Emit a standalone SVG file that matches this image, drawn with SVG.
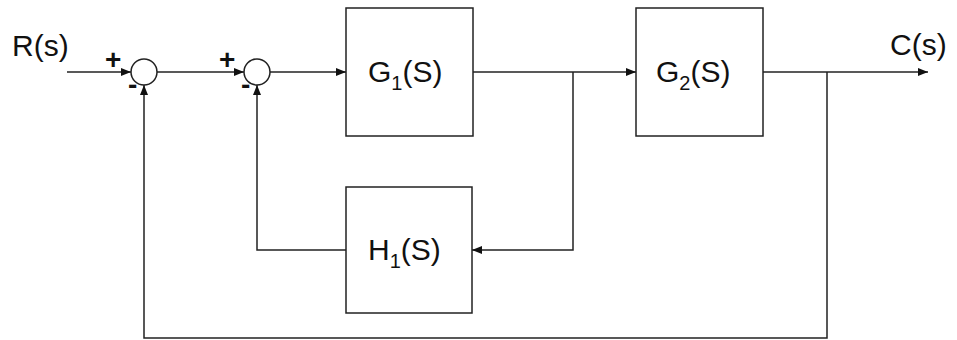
<svg xmlns="http://www.w3.org/2000/svg" width="957" height="340" viewBox="0 0 957 340">
<style>
.ln{fill:none;stroke:#222;stroke-width:1.5}
.bx{fill:#fff;stroke:#222;stroke-width:1.5}
.t{font-family:"Liberation Sans",Arial,sans-serif;font-size:30px;fill:#111}
.s{font-family:"Liberation Sans",Arial,sans-serif;font-size:20px;fill:#111}
.sg{font-family:"Liberation Sans",Arial,sans-serif;font-size:28px;font-weight:bold;fill:#111}
</style>
<defs>
<marker id="ar" viewBox="0 0 10 8" refX="10" refY="4" markerWidth="10" markerHeight="8" markerUnits="userSpaceOnUse" orient="auto">
<path d="M0,0 L10,4 L0,8 Z" fill="#111"/>
</marker>
</defs>
<g id="connectors">
<line class="ln" x1="67" y1="72" x2="131" y2="72" marker-end="url(#ar)"/>
<line class="ln" x1="157" y1="72" x2="244" y2="72" marker-end="url(#ar)"/>
<line class="ln" x1="270" y1="72" x2="346" y2="72" marker-end="url(#ar)"/>
<line class="ln" x1="473" y1="72" x2="636" y2="72" marker-end="url(#ar)"/>
<line class="ln" x1="763" y1="72" x2="928" y2="72" marker-end="url(#ar)"/>
<polyline class="ln" points="573,72 573,250 472,250" marker-end="url(#ar)"/>
<polyline class="ln" points="346,250 257,250 257,85" marker-end="url(#ar)"/>
<polyline class="ln" points="827,72 827,338 144,338 144,85" marker-end="url(#ar)"/>
</g>
<g id="sum1">
<circle class="bx" cx="144" cy="72" r="13"/>
<text class="sg" x="105" y="69">+</text>
<text class="sg" x="128" y="94">-</text>
</g>
<g id="sum2">
<circle class="bx" cx="257" cy="72" r="13"/>
<text class="sg" x="219" y="69">+</text>
<text class="sg" x="241" y="94">-</text>
</g>
<g id="G1">
<rect class="bx" x="346" y="8" width="127" height="128"/>
<text class="t" x="368" y="82">G<tspan class="s" dy="8">1</tspan><tspan dy="-8">(S)</tspan></text>
</g>
<g id="G2">
<rect class="bx" x="636" y="8" width="127" height="128"/>
<text class="t" x="656" y="82">G<tspan class="s" dy="8">2</tspan><tspan dy="-8">(S)</tspan></text>
</g>
<g id="H1">
<rect class="bx" x="346" y="187" width="126" height="126"/>
<text class="t" x="368" y="260">H<tspan class="s" dy="8">1</tspan><tspan dy="-8">(S)</tspan></text>
</g>
<g id="labels">
<text class="t" x="12" y="56">R(s)</text>
<text class="t" x="890" y="55">C(s)</text>
</g>
</svg>
